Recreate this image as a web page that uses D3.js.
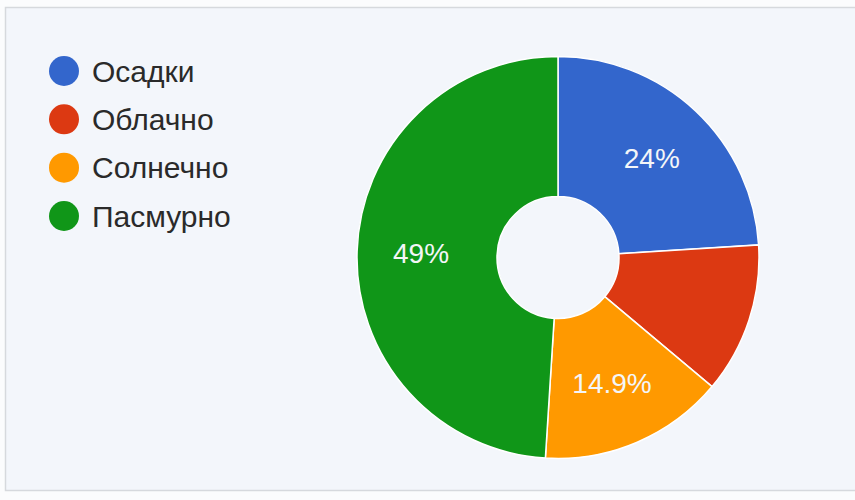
<!DOCTYPE html>
<html><head><meta charset="utf-8">
<script src="https://cdn.jsdelivr.net/npm/d3@7"></script>
<style>html,body{margin:0;padding:0;background:#fbfcfd;}svg{display:block;}</style>
</head><body>
<svg id="c" width="855" height="500"></svg>
<script>
const categories = ["Осадки", "Облачно", "Солнечно", "Пасмурно"];
const values = [24, 12.1, 14.9, 49];
const labels = ["24%", "", "14.9%", "49%"];
const colors = ["#3366cc", "#dc3912", "#ff9900", "#109618"];

const svg = d3.select("#c");
svg.append("rect").attr("x", 5.5).attr("y", 7.5).attr("width", 860).attr("height", 483)
  .attr("fill", "#f3f6fb").attr("stroke", "#d6d9dd").attr("stroke-width", 1.5);

const cx = 558, cy = 257.5, R = 201, r = 61;
const color = d3.scaleOrdinal().domain(categories).range(colors);
const pie = d3.pie().sort(null).value(d => d.v);
const data = categories.map((c, i) => ({c, v: values[i], l: labels[i]}));
const arcs = pie(data);
const arc = d3.arc().innerRadius(r).outerRadius(R);
const g = svg.append("g").attr("transform", `translate(${cx},${cy})`);
g.selectAll("path").data(arcs).join("path")
  .attr("d", arc).attr("fill", d => color(d.data.c))
  .attr("stroke", "#ffffff").attr("stroke-width", 1.5);
const labArc = d3.arc().innerRadius((R + r) / 2 + 6).outerRadius((R + r) / 2 + 6);
g.selectAll("text").data(arcs).join("text")
  .attr("transform", d => `translate(${labArc.centroid(d)})`)
  .attr("text-anchor", "middle").attr("dy", "0.36em")
  .attr("font-family", "Liberation Sans, Arial, sans-serif").attr("font-size", 28)
  .attr("fill", "#f4f6f8").text(d => d.data.l);

const leg = svg.append("g");
const ly = d3.scalePoint().domain(categories).range([71, 216]);
const items = leg.selectAll("g").data(categories).join("g")
  .attr("transform", d => `translate(64,${ly(d)})`);
items.append("circle").attr("r", 15).attr("fill", d => color(d));
items.append("text").attr("x", 28).attr("dy", "0.36em")
  .attr("font-family", "Liberation Sans, Arial, sans-serif").attr("font-size", 30)
  .attr("fill", "#2a2a2a").text(d => d);
</script>
</body></html>
